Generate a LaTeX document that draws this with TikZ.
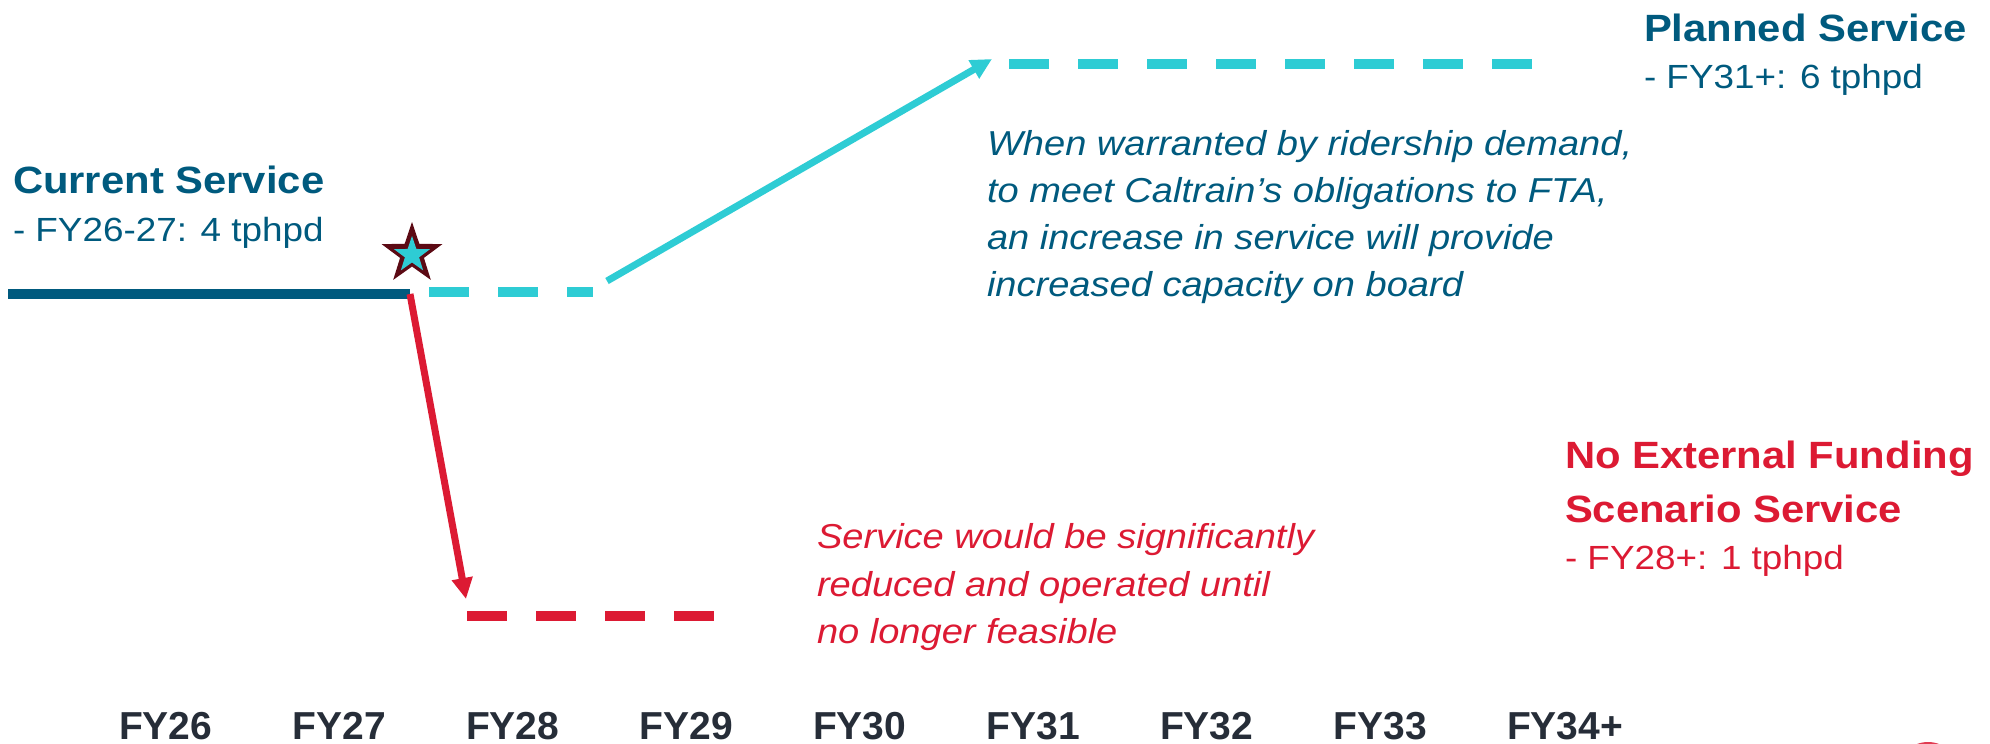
\documentclass[tikz,border=0pt]{standalone}
\usepackage{fontspec}
\setmainfont{Liberation Sans}[FakeStretch=1.1]
\newfontfamily\yearfont{Liberation Sans}
\usetikzlibrary{arrows.meta,shapes.geometric}

\definecolor{navy}{HTML}{005A7E}
\definecolor{aqua}{HTML}{2ECCD4}
\definecolor{alert}{HTML}{DC1A33}
\definecolor{ink}{HTML}{262D38}
\definecolor{maroon}{HTML}{5C0A14}

\tikzset{
  x=1pt, y=-1pt,
  txt/.style={anchor=base west, inner sep=0pt, outer sep=0pt},
  head/.style={txt, font=\fontsize{38}{46}\selectfont\bfseries},
  sub/.style={txt, font=\fontsize{33.5}{40}\selectfont},
  note/.style={txt, font=\fontsize{34.6}{47}\selectfont\itshape},
  year/.style={txt, font=\yearfont\fontsize{39}{46}\selectfont\bfseries, text=ink},
  dashline/.style={line width=10pt, dash pattern=on 40pt off 29pt},
  tip/.style={-{Triangle[length=21pt,width=20pt]}},
}

\begin{document}
\begin{tikzpicture}
\clip (0,0) rectangle (1990,744);
\useasboundingbox (0,0) rectangle (1990,744);

% anchor points of the service lines
\coordinate (curStart) at (8,294);
\coordinate (fork) at (410,294);
\coordinate (holdA) at (429,292);
\coordinate (holdB) at (593,292);
\coordinate (riseA) at (607,281);
\coordinate (riseB) at (992,59);
\coordinate (planA) at (1009,64);
\coordinate (planB) at (1534,64);
\coordinate (dropB) at (466,599);
\coordinate (cutA) at (467,616);
\coordinate (cutB) at (714,616);

% current service
\draw[navy, line width=10pt] (curStart) -- (fork);

% planned growth
\draw[aqua, dashline] (holdA) -- (holdB);
\draw[aqua, line width=7pt, tip] (riseA) -- (riseB);
\draw[aqua, dashline] (planA) -- (planB);

% reduced service
\draw[alert, line width=7pt, tip] (fork) -- (dropB);
\draw[alert, dashline] (cutA) -- (cutB);

% decision star
\node (starOuter) [star, star points=5, star point ratio=2.55, fill=maroon,
  minimum size=64pt, inner sep=0pt] at (412,254) {};
\node (starInner) [star, star points=5, star point ratio=2.55, fill=aqua,
  minimum size=38pt, inner sep=0pt] at (412,255) {};

% labels
\node (curHead) [head, text=navy] at (13,193) {Current Service};
\node (curSub)  [sub, text=navy]  at (13,241) {- FY26-27: 4 tphpd};

\node (planHead) [head, text=navy] at (1644,41) {Planned Service};
\node (planSub)  [sub, text=navy]  at (1644,88) {- FY31+: 6 tphpd};

\node (planNoteA) [note, text=navy] at (987,155) {When warranted by ridership demand,};
\node (planNoteB) [note, text=navy] at (987,202) {to meet Caltrain’s obligations to FTA,};
\node (planNoteC) [note, text=navy] at (987,249) {an increase in service will provide};
\node (planNoteD) [note, text=navy] at (987,296) {increased capacity on board};

\node (cutHeadA) [head, text=alert] at (1565,468) {No External Funding};
\node (cutHeadB) [head, text=alert] at (1565,522) {Scenario Service};
\node (cutSub)   [sub, text=alert]  at (1565,569) {- FY28+: 1 tphpd};

\node (cutNoteA) [note, text=alert] at (817,548) {Service would be significantly};
\node (cutNoteB) [note, text=alert] at (817,596) {reduced and operated until};
\node (cutNoteC) [note, text=alert] at (817,643) {no longer feasible};

% fiscal year axis
\foreach \lab [count=\i from 0] in {FY26,FY27,FY28,FY29,FY30,FY31,FY32,FY33,FY34+}
  \node (yr\i) [year] at (119+173.5*\i,739) {\lab};

% logo edge at the lower right
\fill[alert!85] (1928,773) circle (31);
\end{tikzpicture}
\end{document}
